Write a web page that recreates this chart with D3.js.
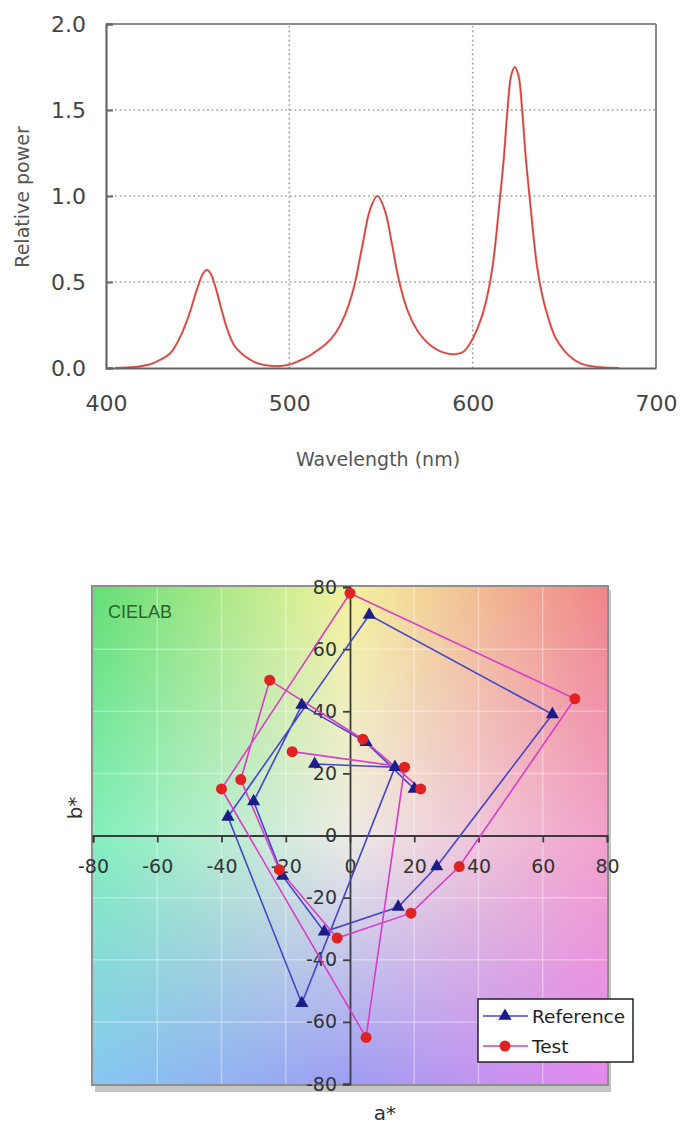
<!DOCTYPE html>
<html><head><meta charset="utf-8">
<script src="https://cdn.jsdelivr.net/npm/d3@7"></script>
<style>body{margin:0;background:#fff}svg{display:block}</style>
</head><body><svg id="c" width="680" height="1129"></svg>
<script>
// ---------- Spectrum data ----------
const wavelengths = [405,410,415,420,425,430,435,440,445,450,453,455,457,460,463,466,470,475,480,485,490,495,500,505,510,515,520,525,530,535,540,544,548,552,556,560,565,570,575,580,585,590,595,600,605,608,611,615,617,619,621,623,625,627,629,631,635,638,641,645,650,655,660,665,670,675,680];
const relPower =    [0,0.002,0.005,0.012,0.025,0.05,0.085,0.17,0.3,0.47,0.55,0.57,0.55,0.46,0.34,0.23,0.13,0.075,0.04,0.02,0.012,0.011,0.02,0.04,0.065,0.1,0.14,0.2,0.3,0.46,0.72,0.92,1.0,0.92,0.72,0.5,0.32,0.215,0.15,0.11,0.087,0.08,0.095,0.17,0.3,0.42,0.6,1.0,1.22,1.5,1.7,1.75,1.7,1.5,1.22,1.0,0.6,0.42,0.3,0.18,0.1,0.05,0.022,0.01,0.004,0.001,0];
const specXTicks = [400,500,600,700];
const specYTicks = [0,0.5,1.0,1.5,2.0];

// ---------- CIELAB data ----------
const refA  = [20,5,-15,-30,-21,-8,15,27,63,6,-38,-15,14,-11];
const refB  = [15,30,42,11,-13,-31,-23,-10,39,71,6,-54,22,23];
const testA = [22,4,-25,-34,-22,-4,19,34,70,0,-40,5,17,-18];
const testB = [15,31,50,18,-11,-33,-25,-10,44,78,15,-65,22,27];
const labTicks = [-80,-60,-40,-20,0,20,40,60,80];
const seriesNames = ["Reference","Test"];

const svg = d3.select("#c");
const FONT = "'DejaVu Sans', Verdana, sans-serif";

// ================= TOP CHART =================
const x = d3.scaleLinear().domain([400,700]).range([106,656]);
const y = d3.scaleLinear().domain([0,2]).range([368,24]);
const gTop = svg.append("g");

gTop.selectAll("line.hg").data(specYTicks.filter(d=>d>0&&d<2)).join("line")
  .attr("x1",x(400)).attr("x2",x(700)).attr("y1",d=>y(d)).attr("y2",d=>y(d))
  .attr("stroke","#9a9a9a").attr("stroke-width",1.6).attr("stroke-dasharray","1.6,3");
gTop.selectAll("line.vg").data(specXTicks.filter(d=>d>400&&d<700)).join("line")
  .attr("x1",d=>x(d)).attr("x2",d=>x(d)).attr("y1",y(0)).attr("y2",y(2))
  .attr("stroke","#9a9a9a").attr("stroke-width",1.6).attr("stroke-dasharray","1.6,3");
gTop.append("line").attr("x1",x(400)).attr("x2",x(700)).attr("y1",y(2)).attr("y2",y(2)).attr("stroke","#8a8a8a").attr("stroke-width",2);
gTop.append("line").attr("x1",x(700)).attr("x2",x(700)).attr("y1",y(0)).attr("y2",y(2)).attr("stroke","#8a8a8a").attr("stroke-width",2);

const spec = wavelengths.map((w,i)=>[w,relPower[i]]);
const specLine = d3.line().x(d=>x(d[0])).y(d=>y(d[1])).curve(d3.curveCatmullRom);
gTop.append("path").datum(spec).attr("fill","none").attr("stroke","#f07068").attr("stroke-width",2.2).attr("d",specLine);
gTop.append("path").datum(spec).attr("fill","none").attr("stroke","#c03a36").attr("stroke-width",0.9).attr("d",specLine);

const yAx = gTop.append("g").attr("transform",`translate(${x(400)},0)`)
  .call(d3.axisLeft(y).tickValues(specYTicks).tickFormat(d3.format(".1f")).tickSize(-7).tickPadding(20));
const xAx = gTop.append("g").attr("transform",`translate(0,${y(0)})`)
  .call(d3.axisBottom(x).tickValues(specXTicks).tickSize(0).tickPadding(27));
[yAx,xAx].forEach(g=>{
  g.select(".domain").attr("stroke","#666").attr("stroke-width",2.2);
  g.selectAll(".tick line").attr("stroke","#666").attr("stroke-width",2);
  g.selectAll("text").attr("font-family",FONT).attr("font-size",22).attr("fill","#444");
});
gTop.append("text").attr("transform","translate(29,197) rotate(-90)").attr("text-anchor","middle")
  .attr("font-family",FONT).attr("font-size",19).attr("fill","#555").text("Relative power");
gTop.append("text").attr("x",378).attr("y",466).attr("text-anchor","middle")
  .attr("font-family",FONT).attr("font-size",19).attr("fill","#555").text("Wavelength (nm)");

// ================= CIELAB CHART =================
const xa = d3.scaleLinear().domain([-80,80]).range([93,607]);
const yb = d3.scaleLinear().domain([-80,80]).range([1084,587]);
const lab = svg.append("g");

lab.append("rect").attr("x",xa(-80)+2).attr("y",yb(80)+3).attr("width",xa(80)-xa(-80)+2).attr("height",yb(-80)-yb(80)+5)
  .attr("fill","#c4c4c4");
const corner = [["#66de76","#f4f29c","#f0868a"],["#84f0bc","#eeebe6","#f2a2cc"],["#86c8f2","#9e9ef2","#e488ee"]];
const N = 160, cv = document.createElement("canvas"); cv.width=N; cv.height=N;
const ctx = cv.getContext("2d"), img = ctx.createImageData(N,N);
const cc = corner.map(r=>r.map(c=>d3.rgb(c)));
for(let j=0;j<N;j++){for(let i=0;i<N;i++){
  const gx=i/(N-1)*2, gy=j/(N-1)*2, ix=Math.min(1,Math.floor(gx)), iy=Math.min(1,Math.floor(gy)), fx=gx-ix, fy=gy-iy;
  const p=(k)=>{const a=cc[iy][ix][k]*(1-fx)+cc[iy][ix+1][k]*fx, b=cc[iy+1][ix][k]*(1-fx)+cc[iy+1][ix+1][k]*fx; return a*(1-fy)+b*fy;};
  const o=(j*N+i)*4; img.data[o]=p("r"); img.data[o+1]=p("g"); img.data[o+2]=p("b"); img.data[o+3]=255;}}
ctx.putImageData(img,0,0);
lab.append("image").attr("href",cv.toDataURL()).attr("x",xa(-80)).attr("y",yb(80))
  .attr("width",xa(80)-xa(-80)).attr("height",yb(-80)-yb(80)).attr("preserveAspectRatio","none");
lab.selectAll("line.gx").data(labTicks.filter(d=>Math.abs(d)<80&&d!==0)).join("line")
  .attr("x1",d=>xa(d)).attr("x2",d=>xa(d)).attr("y1",yb(80)).attr("y2",yb(-80))
  .attr("stroke","#fff").attr("stroke-opacity",0.35).attr("stroke-width",1.5);
lab.selectAll("line.gy").data(labTicks.filter(d=>Math.abs(d)<80&&d!==0)).join("line")
  .attr("x1",xa(-80)).attr("x2",xa(80)).attr("y1",d=>yb(d)).attr("y2",d=>yb(d))
  .attr("stroke","#fff").attr("stroke-opacity",0.35).attr("stroke-width",1.5);
lab.append("rect").attr("x",xa(-80)-1).attr("y",yb(80)-1).attr("width",xa(80)-xa(-80)+2).attr("height",yb(-80)-yb(80)+2)
  .attr("fill","none").attr("stroke","#8e8e8e").attr("stroke-width",2);

lab.append("text").attr("x",108).attr("y",618).attr("font-family","'Liberation Sans', Arial, sans-serif")
  .attr("font-size",18).attr("fill","#2a642a").text("CIELAB");

const ax = lab.append("g").attr("transform",`translate(0,${yb(0)})`)
  .call(d3.axisBottom(xa).tickValues(labTicks).tickFormat(d=>String(d)).tickSize(7).tickPadding(17));
const ay = lab.append("g").attr("transform",`translate(${xa(0)},0)`)
  .call(d3.axisLeft(yb).tickValues(labTicks).tickFormat(d=>String(d)).tickSize(7).tickPadding(6));
[ax,ay].forEach(g=>{
  g.select(".domain").attr("stroke","#3c3c3c").attr("stroke-width",1.8);
  g.selectAll(".tick line").attr("stroke","#3c3c3c").attr("stroke-width",1.8);
  g.selectAll("text").attr("font-family",FONT).attr("font-size",19).attr("fill","#333");
});

const line = d3.line().x(d=>xa(d[0])).y(d=>yb(d[1]));
const refPts = refA.map((a,i)=>[a,refB[i]]);
const testPts = testA.map((a,i)=>[a,testB[i]]);
lab.append("path").datum(refPts).attr("d",line).attr("fill","none").attr("stroke","#4646c8").attr("stroke-width",1.6);
lab.append("path").datum(testPts).attr("d",line).attr("fill","none").attr("stroke","#d83cc8").attr("stroke-width",1.6);
lab.selectAll("path.tri").data(refPts).join("path")
  .attr("transform",d=>`translate(${xa(d[0])},${yb(d[1])})`)
  .attr("d",d3.symbol(d3.symbolTriangle,75)).attr("fill","#1c1c8a");
lab.selectAll("circle.pt").data(testPts).join("circle")
  .attr("cx",d=>xa(d[0])).attr("cy",d=>yb(d[1])).attr("r",5.5).attr("fill","#e02222");

const lg = lab.append("g");
lg.append("rect").attr("x",478).attr("y",999).attr("width",155).attr("height",63)
  .attr("fill","#fff").attr("stroke","#222").attr("stroke-width",1.5);
const legY = [1016,1046];
seriesNames.forEach((n,i)=>{
  const g = lg.append("g");
  g.append("line").attr("x1",483).attr("x2",528).attr("y1",legY[i]).attr("y2",legY[i])
    .attr("stroke",i?"#d83cc8":"#4646c8").attr("stroke-width",1.6);
  if(i===0) g.append("path").attr("transform",`translate(505,${legY[i]})`).attr("d",d3.symbol(d3.symbolTriangle,75)).attr("fill","#1c1c8a");
  else g.append("circle").attr("cx",505).attr("cy",legY[i]).attr("r",5.5).attr("fill","#e02222");
  g.append("text").attr("x",532).attr("y",legY[i]+6.5).attr("font-family",FONT).attr("font-size",18.5).attr("fill","#222").text(n);
});

lab.append("text").attr("transform","translate(82,808) rotate(-90)").attr("text-anchor","middle")
  .attr("font-family",FONT).attr("font-size",20).attr("fill","#333").text("b*");
lab.append("text").attr("x",385).attr("y",1120).attr("text-anchor","middle")
  .attr("font-family",FONT).attr("font-size",20).attr("fill","#333").text("a*");
</script></body></html>
